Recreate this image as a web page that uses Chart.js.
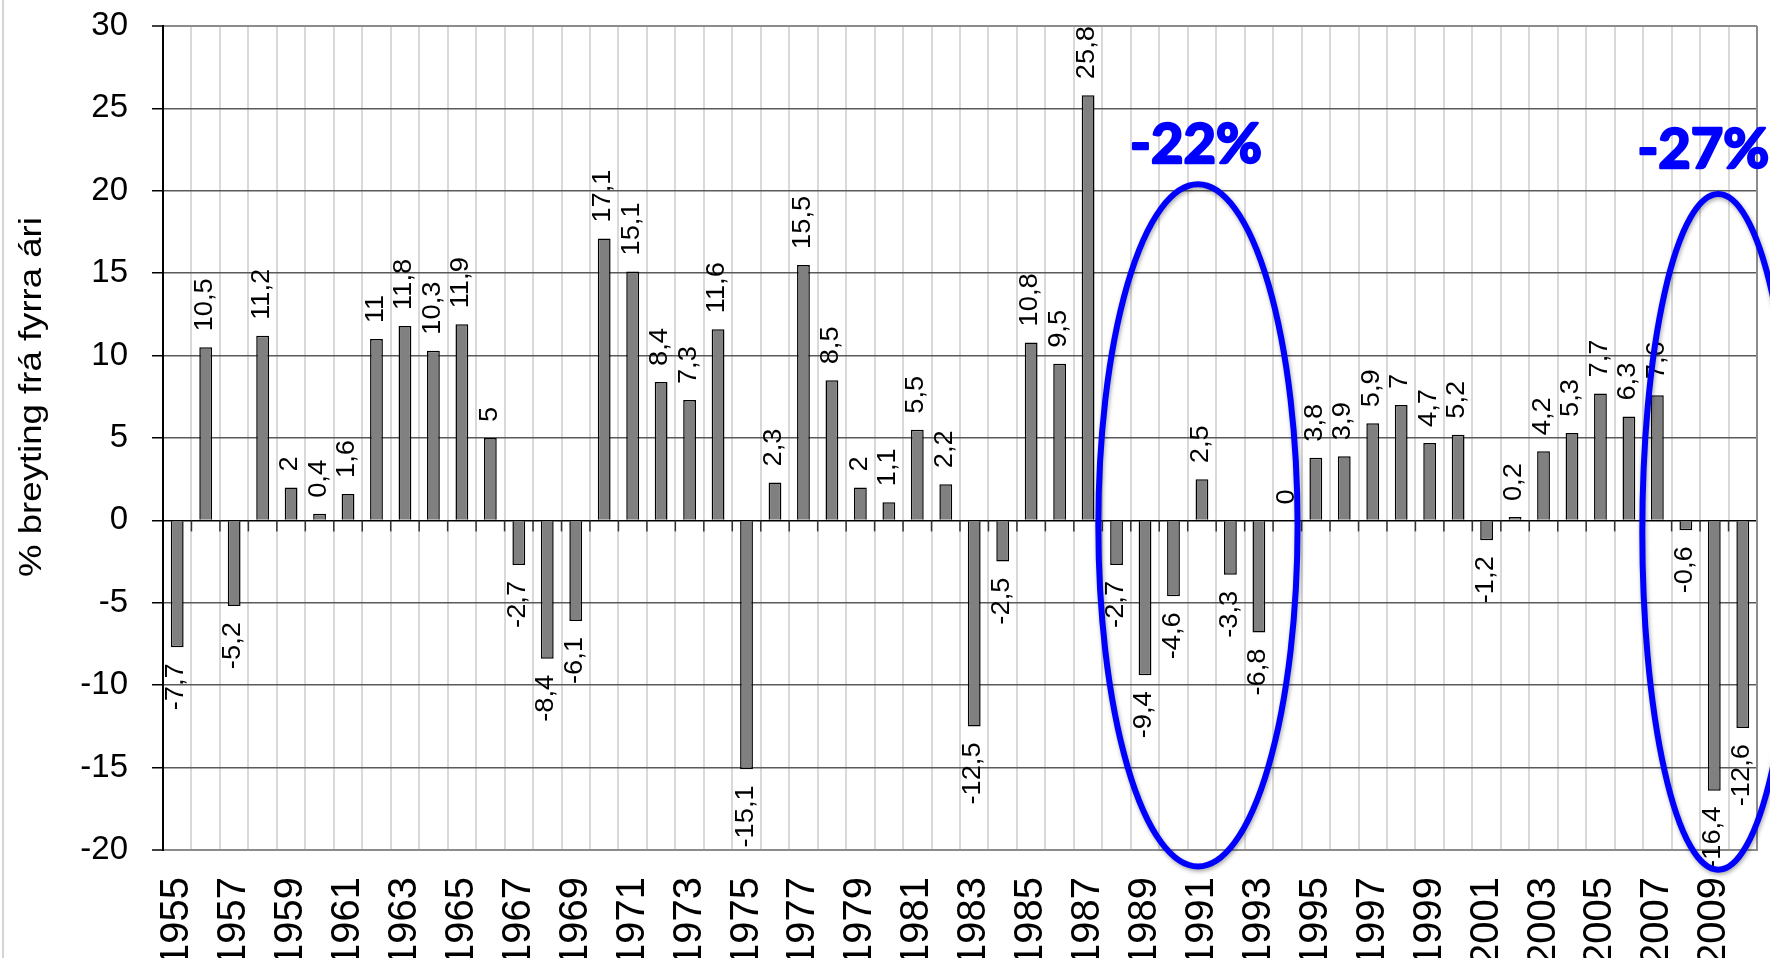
<!DOCTYPE html>
<html>
<head>
<meta charset="utf-8">
<script src="https://cdn.jsdelivr.net/npm/chart.js@4"></script>
<style>
  body { margin: 0; background: #fff; }
</style>
</head>
<body>
<canvas id="changeChart" width="1770" height="958"></canvas>
<script>
// % BREYTING FRÁ FYRRA ÁRI - BAR

const years = [
    "1955", "1956", "1957", "1958", "1959", "1960", "1961", "1962", "1963", "1964",
    "1965", "1966", "1967", "1968", "1969", "1970", "1971", "1972", "1973", "1974",
    "1975", "1976", "1977", "1978", "1979", "1980", "1981", "1982", "1983", "1984",
    "1985", "1986", "1987", "1988", "1989", "1990", "1991", "1992", "1993", "1994",
    "1995", "1996", "1997", "1998", "1999", "2000", "2001", "2002", "2003", "2004",
    "2005", "2006", "2007", "2008", "2009", "2010"
];

const changes = [
    -7.7, 10.5, -5.2, 11.2, 2, 0.4, 1.6, 11, 11.8, 10.3,
    11.9, 5, -2.7, -8.4, -6.1, 17.1, 15.1, 8.4, 7.3, 11.6,
    -15.1, 2.3, 15.5, 8.5, 2, 1.1, 5.5, 2.2, -12.5, -2.5,
    10.8, 9.5, 25.8, -2.7, -9.4, -4.6, 2.5, -3.3, -6.8, 0,
    3.8, 3.9, 5.9, 7, 4.7, 5.2, -1.2, 0.2, 4.2, 5.3,
    7.7, 6.3, 7.6, -0.6, -16.4, -12.6
];

const yTicks = [-20, -15, -10, -5, 0, 5, 10, 15, 20, 25, 30];

// circled periods and their drop
const circleYears = ["1991", "2009"];
const circleTexts = ["-22%", "-27%"];

const yTitle = "% breyting frá fyrra ári";

const fmt = v => String(v).replace(".", ",");

// no extra padding from scales, plot box is fixed
const noPad = s => {
    s.paddingTop = 0;
    s.paddingBottom = 0;
    s.paddingLeft = 0;
    s.paddingRight = 0;
};

// bar value labels, rotated like in excel
const valueLabels = {
    id: "valueLabels",
    afterDatasetsDraw(chart) {
        const ctx = chart.ctx;
        const meta = chart.getDatasetMeta(0);
        ctx.save();
        ctx.fillStyle = "#000";
        ctx.font = "26px 'Liberation Sans', Arial, sans-serif";
        ctx.textBaseline = "middle";
        meta.data.forEach((bar, i) => {
            const v = changes[i];
            ctx.save();
            if (v >= 0) {
                ctx.translate(bar.x - 1, bar.y - 16);
                ctx.textAlign = "left";
            } else {
                ctx.translate(bar.x - 1, bar.y + 16);
                ctx.textAlign = "right";
            }
            ctx.rotate(-Math.PI / 2);
            ctx.scale(1.05, 1);
            ctx.fillText(fmt(v), 0, 0);
            ctx.restore();
        });
        ctx.restore();
    }
};

// frame bits, zero line ticks, y title, blue circles
const extras = {
    id: "extras",
    afterDraw(chart) {
        const ctx = chart.ctx;
        const xs = chart.scales.x;
        const ys = chart.scales.y;
        const area = chart.chartArea;
        const step = xs.getPixelForValue(1) - xs.getPixelForValue(0);
        const y0 = ys.getPixelForValue(0);

        ctx.save();
        // small ticks under zero line
        ctx.strokeStyle = "#333";
        ctx.lineWidth = 1.5;
        for (let i = 1; i < years.length; i++) {
            const x = xs.getPixelForValue(i) - step / 2;
            ctx.beginPath();
            ctx.moveTo(x, y0);
            ctx.lineTo(x, y0 + 11);
            ctx.stroke();
        }
        // right frame
        ctx.strokeStyle = "#8c8c8c";
        ctx.lineWidth = 2;
        ctx.beginPath();
        ctx.moveTo(area.right, area.top);
        ctx.lineTo(area.right, area.bottom);
        ctx.stroke();
        // left edge of the picture
        ctx.strokeStyle = "#d4d4d4";
        ctx.beginPath();
        ctx.moveTo(3, 0);
        ctx.lineTo(3, chart.height);
        ctx.stroke();

        // y axis title
        ctx.save();
        ctx.translate(41, 397);
        ctx.rotate(-Math.PI / 2);
        ctx.scale(1.18, 1);
        ctx.fillStyle = "#000";
        ctx.font = "31px 'Liberation Sans', Arial, sans-serif";
        ctx.textAlign = "center";
        ctx.textBaseline = "alphabetic";
        ctx.fillText(yTitle, 0, 0);
        ctx.restore();

        // circles
        const shapes = [
            { dx: -4, cy: -0.3, rx: 3.5, ry: 20.7, tdx: -6, ty: 21.7 },
            { dx: 4, cy: -0.7, rx: 2.67, ry: 20.5, tdx: -11, ty: 21.4 }
        ];
        circleYears.forEach((yr, k) => {
            const s = shapes[k];
            const i = years.indexOf(yr);
            const cx = xs.getPixelForValue(i) + s.dx;
            const cy = ys.getPixelForValue(s.cy);
            const ry = Math.abs(ys.getPixelForValue(0) - ys.getPixelForValue(s.ry));
            ctx.save();
            ctx.shadowColor = "rgba(0,0,0,0.35)";
            ctx.shadowBlur = 4;
            ctx.shadowOffsetX = 1;
            ctx.shadowOffsetY = 2;
            ctx.strokeStyle = "#0000ff";
            ctx.lineWidth = 6;
            ctx.beginPath();
            ctx.ellipse(cx, cy, s.rx * step, ry, 0, 0, Math.PI * 2);
            ctx.stroke();
            ctx.restore();

            const tx = xs.getPixelForValue(i) + s.tdx;
            const ty = ys.getPixelForValue(s.ty);
            ctx.fillStyle = "#0000ff";
            ctx.strokeStyle = "#0000ff";
            ctx.lineWidth = 2.5;
            ctx.lineJoin = "round";
            ctx.font = "bold 56px Lato, 'Liberation Sans', sans-serif";
            ctx.textAlign = "center";
            ctx.textBaseline = "alphabetic";
            ctx.fillText(circleTexts[k], tx, ty);
            ctx.strokeText(circleTexts[k], tx, ty);
        });
        ctx.restore();
    }
};

const changeDiv = document.getElementById("changeChart");

const changeData = {
    labels: years,
    datasets: [
        {
            data: changes,
            backgroundColor: "#808080",
            borderColor: "#000000",
            borderWidth: 1.5,
            categoryPercentage: 1,
            barPercentage: 0.45
        }
    ]
};

const changeChart = new Chart(changeDiv, {
    type: "bar",
    data: changeData,
    plugins: [valueLabels, extras],
    options: {
        responsive: false,
        animation: false,
        devicePixelRatio: 1,
        layout: { padding: { top: 26, right: 13, left: 0, bottom: 0 } },
        plugins: {
            legend: { display: false },
            tooltip: { enabled: false }
        },
        scales: {
            x: {
                afterFit: s => { s.height = 108; noPad(s); },
                grid: {
                    color: "#d9d9d9",
                    lineWidth: 2,
                    drawTicks: false
                },
                border: { display: true, color: "#8c8c8c", width: 2 },
                ticks: {
                    autoSkip: false,
                    minRotation: 90,
                    maxRotation: 90,
                    padding: 27,
                    color: "#000",
                    font: { family: "'Liberation Sans', Arial, sans-serif", size: 40 },
                    callback: (val, i) => (i % 2 === 0 ? years[i] : "")
                }
            },
            y: {
                min: -20,
                max: 30,
                afterFit: s => { s.width = 163; noPad(s); },
                afterBuildTicks: s => { s.ticks = yTicks.map(v => ({ value: v })); },
                grid: {
                    color: ctx => {
                        const v = ctx.tick && ctx.tick.value;
                        if (v === 0) return "#000";
                        if (v === 30 || v === -20) return "#8c8c8c";
                        return "#5a5a5a";
                    },
                    lineWidth: ctx => (ctx.tick && (ctx.tick.value === 30 || ctx.tick.value === -20) ? 2 : 1.5),
                    tickLength: 11,
                    tickColor: "#000",
                    tickWidth: 1.5
                },
                border: { display: true, color: "#000", width: 2 },
                ticks: {
                    padding: 24,
                    color: "#000",
                    font: { family: "'Liberation Sans', Arial, sans-serif", size: 33 }
                }
            }
        }
    }
});
</script>
</body>
</html>
